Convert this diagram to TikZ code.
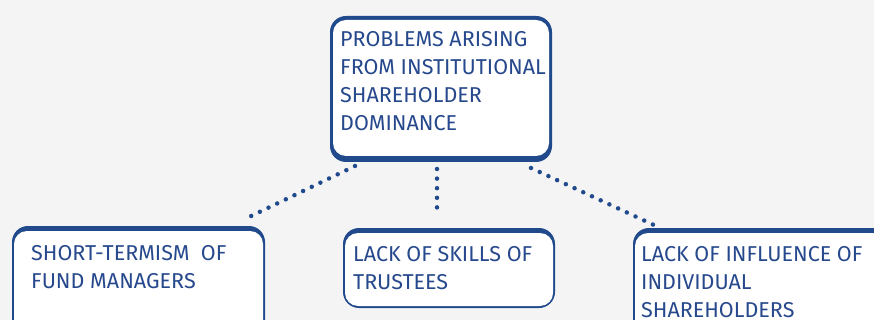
\documentclass[tikz,border=0pt]{standalone}
\usepackage{fontspec}
\setmainfont{Fira Sans}
\usetikzlibrary{calc}
\definecolor{bord}{RGB}{33,74,140}
\definecolor{txt}{RGB}{38,72,140}
\definecolor{bg}{RGB}{244,244,244}
\begin{document}
\begin{tikzpicture}[x=1pt,y=-1pt,
  outer/.style={fill=bord, rounded corners=16pt, inner sep=0pt},
  inner/.style={fill=white, rounded corners=13pt},
  label/.style={anchor=base west, align=left, inner sep=0pt, text=txt,
    font=\fontsize{21.5}{28}\selectfont},
  dots/.style={draw=bord, line width=4.5pt, line cap=round, dash pattern=on 0pt off 9.6pt}]
\useasboundingbox (0,0) rectangle (874,320);
\fill[bg] (0,0) rectangle (874,320);
\clip (0,0) rectangle (874,320);
% top box
\path[outer] (330,16) rectangle (552,162);
\coordinate (topA) at (355,166);
\coordinate (topB) at (437,169);
\coordinate (topC) at (531,168);
\fill[inner] (333,20) rectangle (549,156);
\node[label] (ttop) at (340,131) {PROBLEMS ARISING\\FROM INSTITUTIONAL\\SHAREHOLDER\\DOMINANCE};
% left box
\path[outer] (12,226) rectangle (265,340);
\fill[inner] (14,231) rectangle (263,338);
\node[label] (tleft) at (31,288) {SHORT-TERMISM\ \ OF\\FUND MANAGERS};
\coordinate (leftA) at (247,218);
% middle box
\path[outer] (343,228) rectangle (555,308);
\fill[inner] (345,233) rectangle (553,306);
\node[label] (tmid) at (353,289) {LACK OF SKILLS OF\\TRUSTEES};
\coordinate (midA) at (437,215);
% right box
\path[outer] (633,228) rectangle (890,345);
\fill[inner] (635,233) rectangle (888,343);
\node[label] (tright) at (641,317) {LACK OF INFLUENCE OF\\INDIVIDUAL\\SHAREHOLDERS};
\coordinate (rightA) at (656,226);
% connectors
\draw[dots] (topA) -- (leftA);
\draw[dots] (topB) -- (midA);
\draw[dots] (topC) -- (rightA);
\end{tikzpicture}
\end{document}
